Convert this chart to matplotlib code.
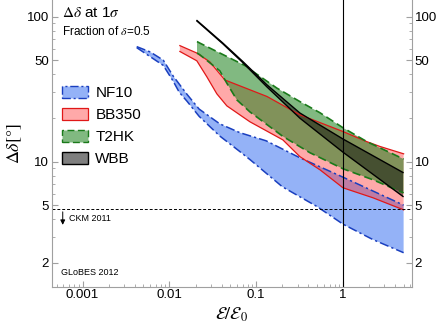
import numpy as np
import matplotlib
matplotlib.use('Agg')
from matplotlib import pyplot as plt
from matplotlib.patches import Patch

plt.rcParams['font.family'] = ['Liberation Sans', 'DejaVu Sans']
plt.rcParams['mathtext.fontset'] = 'stix'

# NF10 band
nf10_x_up = [0.0042, 0.006, 0.0085, 0.011, 0.016, 0.022, 0.038, 0.065, 0.13, 0.32, 1.0, 5.0]
nf10_y_up = [62, 57, 50, 39, 29, 23, 18.2, 15.8, 13.9, 10.6, 7.8, 5.0]
nf10_x_lo = [0.0042, 0.0085, 0.011, 0.013, 0.016, 0.022, 0.038, 0.065, 0.085, 0.2, 0.5, 1.0, 2.2, 5.0]
nf10_y_lo = [61, 46, 36, 30, 26, 20.5, 15.0, 11.7, 10.3, 6.7, 4.9, 3.7, 2.9, 2.35]

# BB350 band
bb_x_up = [0.0132, 0.0207, 0.0292, 0.0436, 0.133, 0.319, 1.0, 1.89, 2.67, 5.0]
bb_y_up = [63, 56, 48.7, 36.5, 28.1, 21.0, 16.1, 13.7, 12.7, 11.3]
bb_x_lo = [0.0132, 0.0207, 0.027, 0.0352, 0.0459, 0.0846, 0.203, 0.319, 0.543, 1.0, 2.22, 5.0]
bb_y_lo = [57.4, 49.5, 38.4, 29.3, 24.2, 18.8, 14.1, 10.8, 8.77, 6.59, 5.62, 4.64]

# T2HK band
t2_x_up = [0.0208, 0.0224, 0.0459, 0.078, 0.0916, 0.173, 0.319, 0.543, 1.0, 1.89, 5.0]
t2_y_up = [67.2, 65.6, 53.0, 45.2, 41.8, 32.1, 25.9, 21.7, 17.1, 13.7, 10.4]
t2_x_lo = [0.0208, 0.0224, 0.0381, 0.0459, 0.0599, 0.0846, 0.203, 0.416, 1.0, 2.22, 5.0]
t2_y_lo = [56.0, 54.5, 42.2, 34.7, 26.6, 22.0, 14.9, 11.5, 8.91, 7.48, 6.07]

# WBB band
wbb_x = [0.0208, 0.0413, 0.0703, 0.133, 0.319, 1.0, 4.92]
wbb_y_up = [93.8, 65.6, 48.9, 33.8, 21.6, 14.3, 8.4]
wbb_y_lo = [93.0, 64.8, 48.0, 32.7, 19.9, 11.6, 5.74]

ckm = 4.7

def band(ax, xu, yu, xl, yl, fc, alpha, ec, ls, lw):
    # polygon: upper curve then lower curve reversed
    px = list(xu) + list(xl)[::-1]
    py = list(yu) + list(yl)[::-1]
    ax.fill(px, py, color=fc, alpha=alpha, lw=0)
    ax.plot(xu, yu, color=ec, ls=ls, lw=lw)
    ax.plot(xl, yl, color=ec, ls=ls, lw=lw)

fig = plt.figure(figsize=(4.38, 3.29), dpi=100)
ax = fig.add_axes([0.118, 0.1286, 0.822, 0.8714])
ax.set_xscale('log')
ax.set_yscale('log')

nf_ls = (0, (6, 2, 1.5, 2))
t2_ls = (0, (5, 2.5))
band(ax, nf10_x_up, nf10_y_up, nf10_x_lo, nf10_y_lo, (0.30, 0.50, 0.95), 0.6, '#1a3fbf', nf_ls, 1.1)
band(ax, bb_x_up, bb_y_up, bb_x_lo, bb_y_lo, (1.0, 0.2, 0.2), 0.42, '#e01818', '-', 0.9)
band(ax, t2_x_up, t2_y_up, t2_x_lo, t2_y_lo, (0.1, 0.5, 0.1), 0.55, '#1a7a1a', t2_ls, 1.2)
band(ax, wbb_x, wbb_y_up, wbb_x, wbb_y_lo, (0, 0, 0), 0.45, 'black', '-', 1.0)

ax.axvline(1.0, color='black', lw=0.8)
ax.axhline(ckm, color='black', lw=0.7, ls=(0, (3, 2)))
ax.annotate('', xy=(0.00059, 3.5), xytext=(0.00059, ckm),
            arrowprops=dict(arrowstyle='-|>', color='black', lw=0.7, mutation_scale=7))
ax.text(0.00069, 4.04, 'CKM 2011', fontsize=6.5, va='center', ha='left')
ax.text(0.00056, 1.71, 'GLoBES 2012', fontsize=6.5, va='center', ha='left')

ax.text(0.028, 0.955, r'$\Delta\delta$ at 1$\sigma$', transform=ax.transAxes, fontsize=11, va='center')
ax.text(0.028, 0.89, r'Fraction of $\delta$=0.5', transform=ax.transAxes, fontsize=8.5, va='center')

ax.set_xlim(4.4e-4, 6.2)
ax.set_ylim(1.37, 130)

ax.set_yticks([2, 5, 10, 50, 100])
ax.set_yticklabels(['2', '5', '10', '50', '100'])
ax.set_xticks([0.001, 0.01, 0.1, 1])
ax.set_xticklabels(['0.001', '0.01', '0.1', '1'])
ax.tick_params(which='both', direction='in', color='#a0a0a0', labelsize=9.5, pad=2,
               left=True, right=True, labelleft=True, labelright=True, top=False)
ax.tick_params(which='major', length=4)
ax.tick_params(which='minor', length=2)
for s in ['left', 'right', 'bottom']:
    ax.spines[s].set_color('#a0a0a0')
ax.spines['top'].set_visible(False)

ax.set_xlabel(r'$\mathcal{E}/\mathcal{E}_0$', fontsize=13, labelpad=3)
ax.set_ylabel(r'$\Delta\delta[°]$', fontsize=13, labelpad=2)

handles = [
    Patch(facecolor=(0.30, 0.50, 0.95, 0.6), edgecolor='#1a3fbf', lw=1.0, ls=nf_ls),
    Patch(facecolor=(1.0, 0.2, 0.2, 0.42), edgecolor='#e01818', lw=0.9),
    Patch(facecolor=(0.1, 0.5, 0.1, 0.55), edgecolor='#1a7a1a', lw=1.0, ls=t2_ls),
    Patch(facecolor=(0, 0, 0, 0.5), edgecolor='black', lw=1.0),
]
ax.legend(handles, ['NF10', 'BB350', 'T2HK', 'WBB'], loc='upper left',
          bbox_to_anchor=(0.028, 0.7), frameon=False, fontsize=11,
          handlelength=1.7, handleheight=0.85, labelspacing=0.5,
          handletextpad=0.5, borderpad=0, borderaxespad=0)

fig.savefig('out.png', dpi=100)
